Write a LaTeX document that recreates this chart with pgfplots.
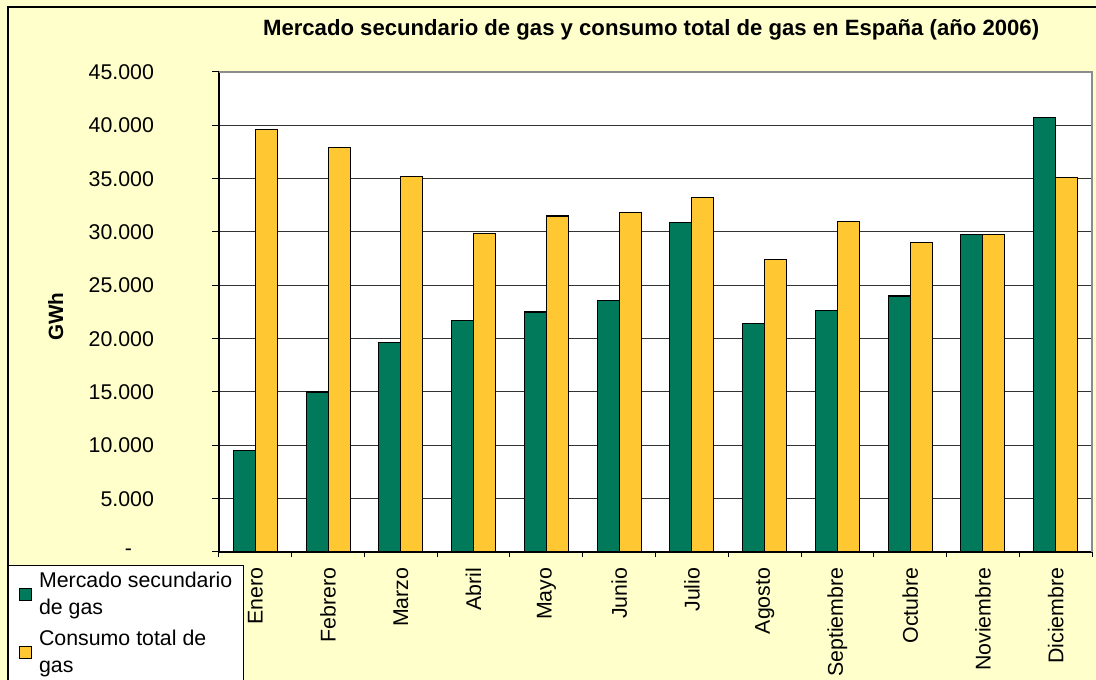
\documentclass[border=0pt]{standalone}
\usepackage{pgfplots}
\pgfplotsset{compat=1.18}
\usepackage{fontspec}
\setmainfont{Liberation Sans}
\definecolor{bg}{HTML}{FFFFCC}
\definecolor{verde}{HTML}{007A5A}
\definecolor{oro}{HTML}{FFC832}
\begin{document}
\begin{tikzpicture}[x=1pt,y=1pt]
\path[use as bounding box] (-164.25,-96) rectangle (657.75,414);
\fill[bg] (-164.25,-96) rectangle (657.75,414);
\draw[black, line width=0.8pt] (-158.25,-110) -- (-158.25,408.75) -- (700,408.75);
\begin{axis}[
  at={(0,0)}, anchor=south west,
  scale only axis, width=654.75pt, height=360pt,
  ymin=0, ymax=45000,
  xmin=-0.5, xmax=11.5,
  ybar=0pt, bar width=16.5pt,
  axis background/.style={fill=white},
  axis x line*=bottom, axis y line*=left,
  axis line style={black, line width=0.8pt},
  scaled y ticks=false,
  ytick={0,5000,...,45000},
  yticklabels={\makebox[21.75pt][l]{-},5.000,10.000,15.000,20.000,25.000,30.000,35.000,40.000,45.000},
  ymajorgrids, grid style={black!80, line width=0.75pt},
  tick align=outside, major tick length=5.25pt,
  ytick style={black, line width=0.75pt},
  xtick={0,...,11},
  xticklabels={Enero,Febrero,Marzo,Abril,Mayo,Junio,Julio,Agosto,Septiembre,Octubre,Noviembre,Diciembre},
  major x tick style={draw=none},
  minor xtick={-0.5,0.5,...,11.5},
  minor tick length=3.75pt,
  minor x tick style={black, line width=0.75pt},
  xticklabel style={yshift=-3pt, rotate=90, anchor=east, font=\fontsize{16}{19}\selectfont},
  yticklabel style={anchor=east, xshift=-40pt, font=\fontsize{16}{19}\selectfont},
  ylabel={\textbf{GWh}},
  ylabel style={at={(axis description cs:-0.187,0.49)}, anchor=center, font=\fontsize{15.5}{18}\selectfont},
  title={\textbf{Mercado secundario de gas y consumo total de gas en España (año 2006)}},
  title style={at={(axis description cs:0.495,1.0917)}, anchor=center, yshift=-7.5pt, font=\fontsize{16.6}{19}\selectfont},
  legend style={at={(axis description cs:-0.2417,-0.0271)}, anchor=north west, draw=black, line width=0.6pt, fill=white,
    font=\fontsize{16}{20}\selectfont, cells={align=left}, inner xsep=6pt, inner ysep=3pt, row sep=6.5pt},
  legend cell align=left,
  legend image code/.code={\path[draw=none, fill=none] (0pt,0pt) rectangle (15pt,0.1pt); \draw[#1, line width=0.6pt] (2.25pt,-4.5pt) rectangle (11.25pt,4.5pt);},
  enlargelimits=false, clip=false,
]
\addplot[fill=verde, draw=black, line width=0.8pt] coordinates {
(0,9500) (1,15000) (2,19600) (3,21700) (4,22500) (5,23600) (6,30900) (7,21400) (8,22600) (9,24000) (10,29800) (11,40700)};
\addplot[fill=oro, draw=black, line width=0.8pt] coordinates {
(0,39650) (1,37900) (2,35200) (3,29850) (4,31500) (5,31800) (6,33250) (7,27400) (8,31000) (9,29000) (10,29800) (11,35150)};
\legend{Mercado secundario\\de gas, Consumo total de\\gas}
\draw[black!45, line width=0.8pt] (rel axis cs:0,1) -- (rel axis cs:1,1) -- (rel axis cs:1,0);
\end{axis}
\end{tikzpicture}
\end{document}
